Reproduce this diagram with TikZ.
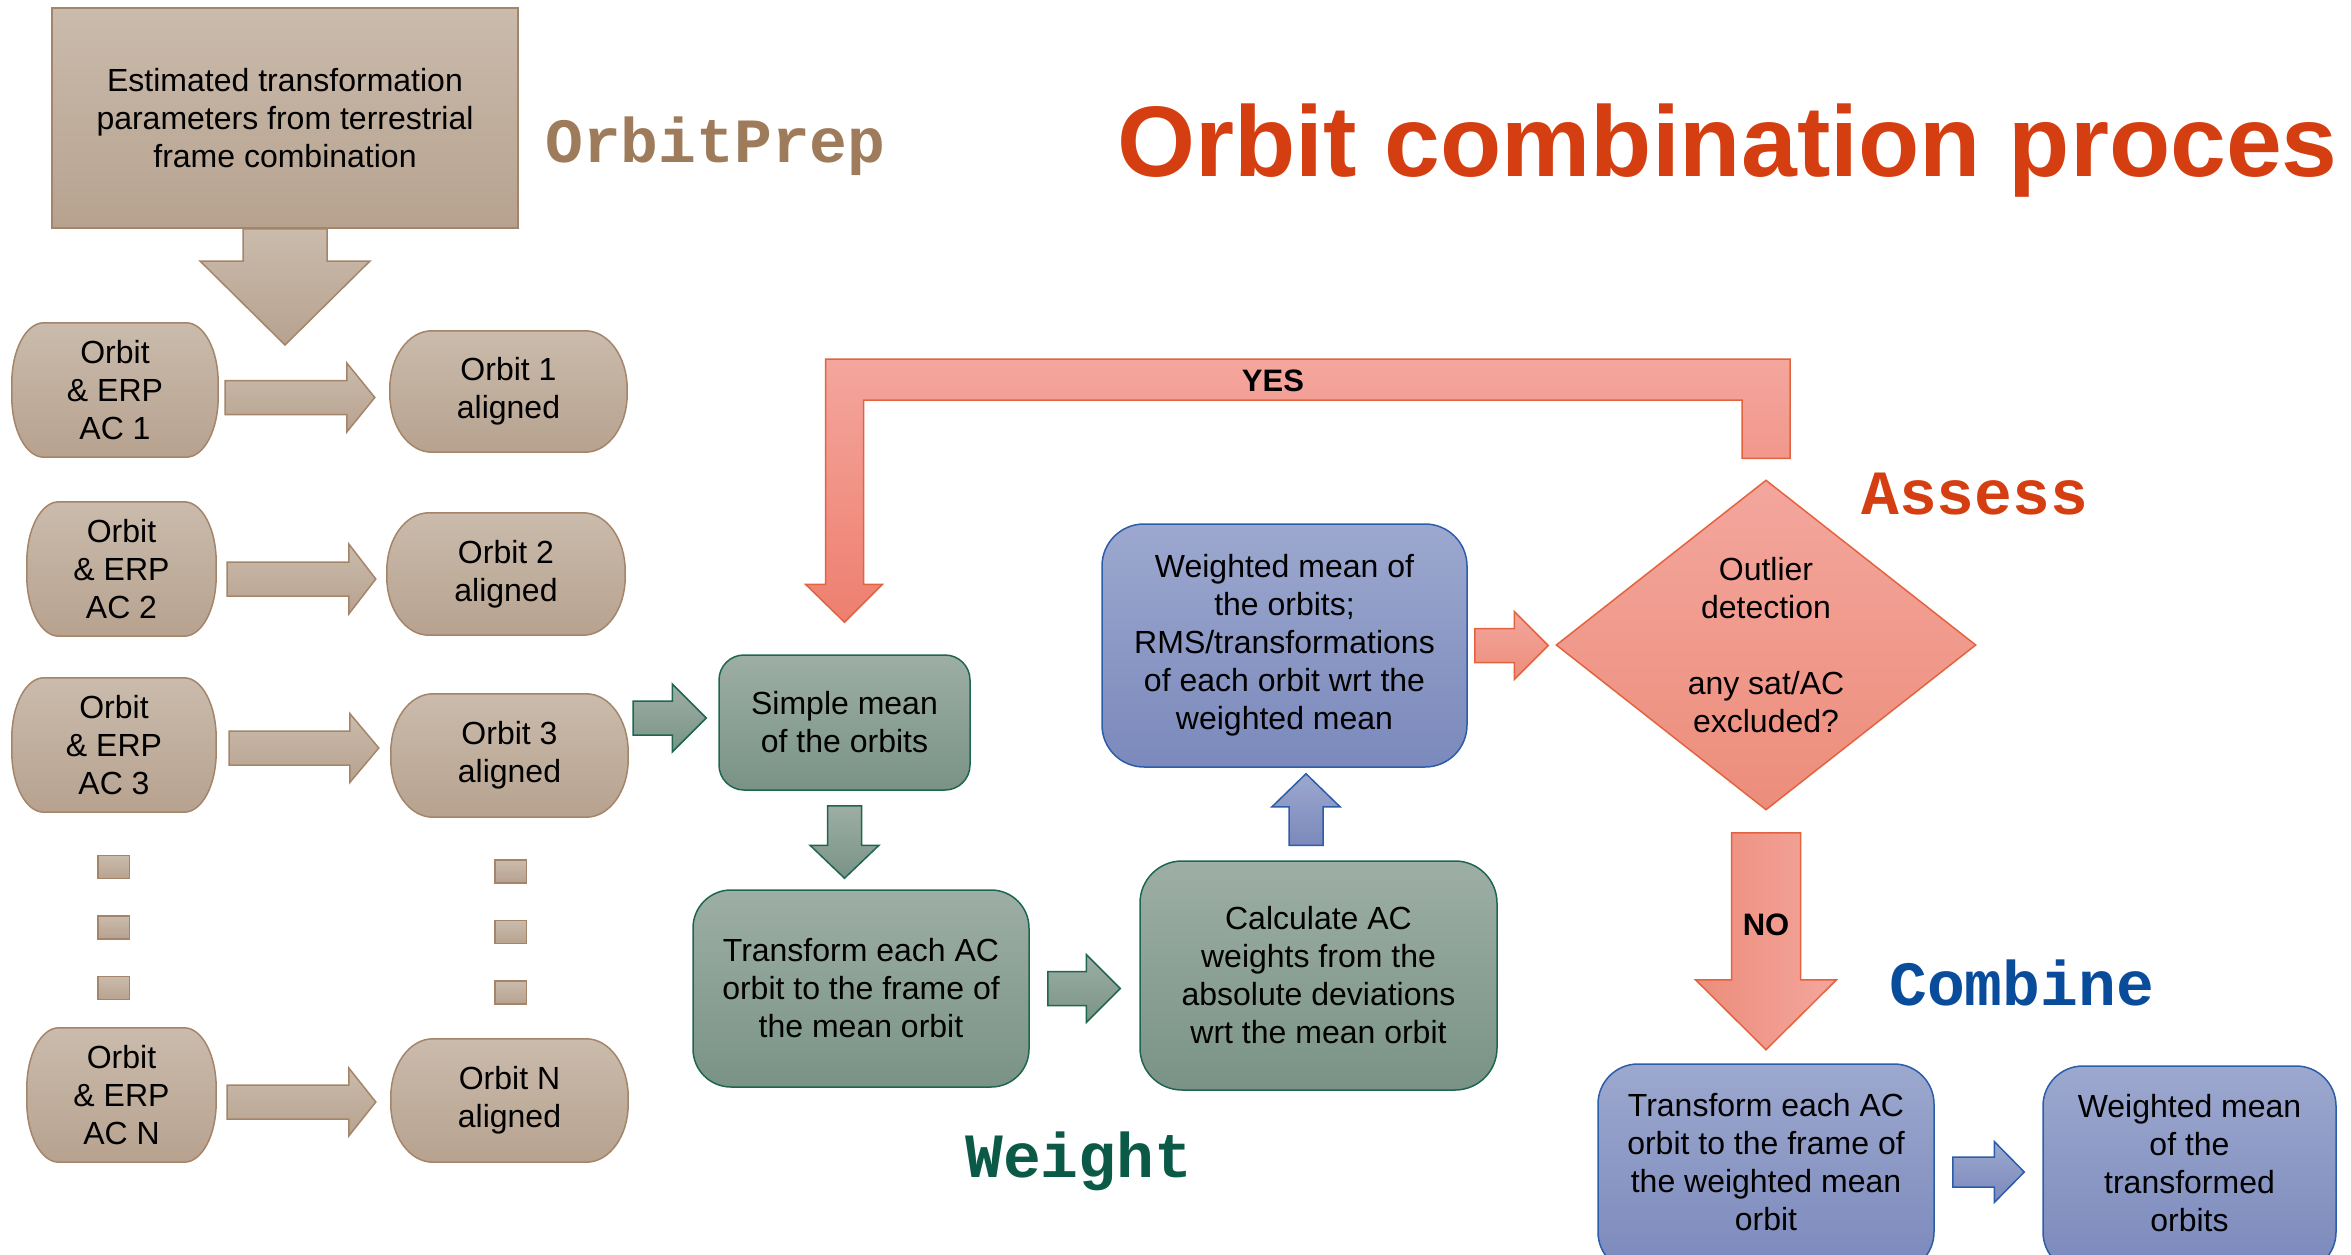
\documentclass[tikz,border=0pt]{standalone}
\usepackage{fontspec}
\setmainfont{Liberation Sans}
\setmonofont{Liberation Mono}
\usetikzlibrary{calc,backgrounds,shapes.geometric}

\definecolor{tanTop}{HTML}{CABBAC}
\definecolor{tanBot}{HTML}{B7A28F}
\definecolor{tanLine}{HTML}{A5856A}
\definecolor{greenTop}{HTML}{9DAEA5}
\definecolor{greenBot}{HTML}{7A9386}
\definecolor{greenLine}{HTML}{1F6650}
\definecolor{blueTop}{HTML}{9CA8CE}
\definecolor{blueBot}{HTML}{7B89BC}
\definecolor{blueLine}{HTML}{2C5DA8}
\definecolor{redTop}{HTML}{F4A69D}
\definecolor{redBot}{HTML}{EC8D7B}
\definecolor{redLine}{HTML}{E4633F}
\definecolor{titleRed}{HTML}{D53E10}
\definecolor{prepBrown}{HTML}{9E7B5A}
\definecolor{weightGreen}{HTML}{0B5A47}
\definecolor{combineBlue}{HTML}{0A4C9C}

\tikzset{
  boxtext/.style={font=\fontsize{32}{38}\selectfont, align=center, text=black, inner sep=0pt},
  tanfill/.style={top color=tanTop, bottom color=tanBot, draw=tanLine, line width=1.5pt},
  greenfill/.style={top color=greenTop, bottom color=greenBot, draw=greenLine, line width=1.5pt},
  bluefill/.style={top color=blueTop, bottom color=blueBot, draw=blueLine, line width=1.5pt},
  redfill/.style={top color=redTop, bottom color=redBot, draw=redLine, line width=1.5pt},
  greenbox/.style={boxtext, greenfill, rounded corners=#1},
  bluebox/.style={boxtext, bluefill, rounded corners=#1},
  sectionlabel/.style={font=\ttfamily\bfseries\fontsize{63}{70}\selectfont, anchor=base west, inner sep=0pt},
  dotbox/.style={tanfill, minimum width=31.5pt, minimum height=23pt, inner sep=0pt},
  answer/.style={font=\bfseries\fontsize{31}{36}\selectfont, text=black, inner sep=0pt}
}

% box with elliptical corners drawn around a named node
\newcommand\ebox[4][]{\path[#1] ($(#2.north west)+(#3,0)$) -- ($(#2.north east)+(-#3,0)$)
  arc[start angle=270,end angle=360,x radius=#3,y radius=#4] -- ($(#2.south east)+(0,-#4)$)
  arc[start angle=0,end angle=90,x radius=#3,y radius=#4] -- ($(#2.south west)+(#3,0)$)
  arc[start angle=90,end angle=180,x radius=#3,y radius=#4] -- ($(#2.north west)+(0,#4)$)
  arc[start angle=180,end angle=270,x radius=#3,y radius=#4] -- cycle;}

% block arrows: [style]{start}{tip}{shaft half}{head half}{head length}
\newcommand\RArr[6][]{\path[#1] let \p1=#2, \p2=#3 in
  (\x1,\y2+#4pt) -- (\x2-#6pt,\y2+#4pt) -- (\x2-#6pt,\y2+#5pt) -- (\x2,\y2) --
  (\x2-#6pt,\y2-#5pt) -- (\x2-#6pt,\y2-#4pt) -- (\x1,\y2-#4pt) -- cycle;}
\newcommand\DArr[6][]{\path[#1] let \p1=#2, \p2=#3 in
  (\x2-#4pt,\y1) -- (\x2-#4pt,\y2+#6pt) -- (\x2-#5pt,\y2+#6pt) -- (\x2,\y2) --
  (\x2+#5pt,\y2+#6pt) -- (\x2+#4pt,\y2+#6pt) -- (\x2+#4pt,\y1) -- cycle;}
\newcommand\UArr[6][]{\path[#1] let \p1=#2, \p2=#3 in
  (\x2-#4pt,\y1) -- (\x2-#4pt,\y2-#6pt) -- (\x2-#5pt,\y2-#6pt) -- (\x2,\y2) --
  (\x2+#5pt,\y2-#6pt) -- (\x2+#4pt,\y2-#6pt) -- (\x2+#4pt,\y1) -- cycle;}

\begin{document}
\begin{tikzpicture}[x=1pt,y=-1pt]
\useasboundingbox (0,0) rectangle (2351,1255);
\clip (0,0) rectangle (2351,1255);

% ---------- labels ----------
\node[font=\bfseries\fontsize{100.3}{110}\selectfont, text=titleRed, anchor=base west, inner sep=0pt]
  (title) at (1117,176) {Orbit combination proces};
\node[sectionlabel, text=prepBrown] (lprep) at (545,162) {OrbitPrep};
\node[sectionlabel, text=titleRed] (lassess) at (1861,514) {Assess};
\node[sectionlabel, text=combineBlue] (lcombine) at (1889,1005) {Combine};
\node[sectionlabel, text=weightGreen] (lweight) at (965,1177) {Weight};

% ---------- OrbitPrep ----------
\node[boxtext, tanfill, minimum width=466pt, minimum height=220pt] (top) at (285,118)
  {Estimated transformation\\parameters from terrestrial\\frame combination};
\coordinate (topTip) at (285,345);

\node[boxtext, minimum width=206pt, minimum height=134pt] (ac1) at (115,390) {Orbit\\\& ERP\\AC 1};
\node[boxtext, minimum width=189pt, minimum height=134pt] (ac2) at (121.5,569) {Orbit\\\& ERP\\AC 2};
\node[boxtext, minimum width=204pt, minimum height=134pt] (ac3) at (114,745) {Orbit\\\& ERP\\AC 3};
\node[boxtext, minimum width=189pt, minimum height=134pt] (acN) at (121.5,1095) {Orbit\\\& ERP\\AC N};

\node[boxtext, minimum width=237pt, minimum height=121pt] (o1) at (508.5,391.5) {Orbit 1\\aligned};
\node[boxtext, minimum width=238pt, minimum height=122pt] (o2) at (506,574) {Orbit 2\\aligned};
\node[boxtext, minimum width=237pt, minimum height=123pt] (o3) at (509.5,755.5) {Orbit 3\\aligned};
\node[boxtext, minimum width=237pt, minimum height=123pt] (oN) at (509.5,1100.5) {Orbit N\\aligned};

\begin{scope}[on background layer]
  \ebox[tanfill]{ac1}{32}{60}
  \ebox[tanfill]{ac2}{32}{60}
  \ebox[tanfill]{ac3}{32}{60}
  \ebox[tanfill]{acN}{32}{60}
  \ebox[tanfill]{o1}{42}{58}
  \ebox[tanfill]{o2}{42}{58}
  \ebox[tanfill]{o3}{42}{58}
  \ebox[tanfill]{oN}{42}{58}
\end{scope}

\node[dotbox] (dl1) at (113.75,867) {};
\node[dotbox] (dl2) at (113.75,927.5) {};
\node[dotbox] (dl3) at (113.75,988) {};
\node[dotbox] (dr1) at (510.5,871.5) {};
\node[dotbox] (dr2) at (510.5,932) {};
\node[dotbox] (dr3) at (510.5,992.5) {};

\DArr[tanfill]{(top.south)}{(topTip)}{42}{85}{84}
\RArr[tanfill]{($(ac1.east)+(7,0)$)}{($(o1.west)+(-15,6)$)}{17}{34.5}{28}
\RArr[tanfill]{($(ac2.east)+(11,0)$)}{($(o2.west)+(-11,5)$)}{17}{35}{27}
\RArr[tanfill]{($(ac3.east)+(13,0)$)}{($(o3.west)+(-12,-7.5)$)}{17}{34.5}{29}
\RArr[tanfill]{($(acN.east)+(11,0)$)}{($(oN.west)+(-15,1.5)$)}{17}{34}{27}

% ---------- Weight ----------
\node[greenbox=25pt, minimum width=251pt, minimum height=135pt] (simple) at (844.5,722.5)
  {Simple mean\\of the orbits};
\node[greenbox=38pt, minimum width=336pt, minimum height=197pt] (trans) at (861,988.5)
  {Transform each AC\\orbit to the frame of\\the mean orbit};
\node[greenbox=42pt, minimum width=357pt, minimum height=229pt] (calc) at (1318.5,975.5)
  {Calculate AC\\weights from the\\absolute deviations\\wrt the mean orbit};
\node[bluebox=42pt, minimum width=365pt, minimum height=243pt] (wm) at (1284.5,645.5)
  {Weighted mean of\\the orbits;\\RMS/transformations\\of each orbit wrt the\\weighted mean};

\RArr[greenfill]{($(o3.east)+(5,0)$)}{($(simple.west)+(-12,-4.5)$)}{17}{34}{34}
\DArr[greenfill]{($(simple.south)+(0,15)$)}{($(simple.south |- trans.north)+(0,-11)$)}{17}{34.5}{33}
\RArr[greenfill]{($(trans.east)+(18,0)$)}{($(trans.east -| calc.west)+(-19,0)$)}{17}{34}{34}
\UArr[bluefill]{($(calc.north)+(0,-15)$)}{($(wm.south)+(21.5,6)$)}{17}{34}{33}

% ---------- Assess ----------
\node[diamond, redfill, minimum width=420pt, minimum height=330pt, inner sep=0pt] (diam) at (1766,645) {};
\node[boxtext] (diamtext) at (diam.center) {Outlier\\detection\\~\\any sat/AC\\excluded?};
\RArr[redfill]{($(wm.east)+(7,0)$)}{($(diam.west)+(-7,0.5)$)}{17}{34}{34}

% YES feedback arrow
\path[redfill, top color=redTop, bottom color=redBot!90!red]
  let \p1=($(diam.north)+(0,-21)$), \p2=($(simple.north)+(0,-32)$) in
  (\x1+24pt,\y1) -- (\x1+24pt,-359pt) -- (\x2-19pt,-359pt) -- (\x2-19pt,\y2+38pt) --
  (\x2-39pt,\y2+38pt) -- (\x2,\y2) -- (\x2+38pt,\y2+38pt) -- (\x2+19pt,\y2+38pt) --
  (\x2+19pt,-400pt) -- (\x1-24pt,-400pt) -- (\x1-24pt,\y1) -- cycle;
\node[answer] (yes) at (1273,381) {YES};

% NO arrow
\DArr[redfill, left color=redBot, right color=redTop]{($(diam.south)+(0,22)$)}{($(diam.south)+(0,239)$)}{34.5}{70.5}{70}
\node[answer] (no) at (1766,925) {NO};

% ---------- Combine ----------
\node[bluefill, rounded corners=40pt, minimum width=336pt, minimum height=208pt, inner sep=0pt] (btrans) at (1766,1168) {};
\node[boxtext] (btransT) at ($(btrans.center)+(0,-6)$)
  {Transform each AC\\orbit to the frame of\\the weighted mean\\orbit};
\node[bluefill, rounded corners=40pt, minimum width=293pt, minimum height=206pt, inner sep=0pt] (bwm) at (2189.5,1169) {};
\node[boxtext] (bwmT) at ($(bwm.center)+(0,-6)$)
  {Weighted mean\\of the\\transformed\\orbits};
\RArr[bluefill]{($(btrans.east)+(18,0)$)}{($(bwm.west)+(-18,3)$)}{15}{30.5}{30}
\end{tikzpicture}
\end{document}
